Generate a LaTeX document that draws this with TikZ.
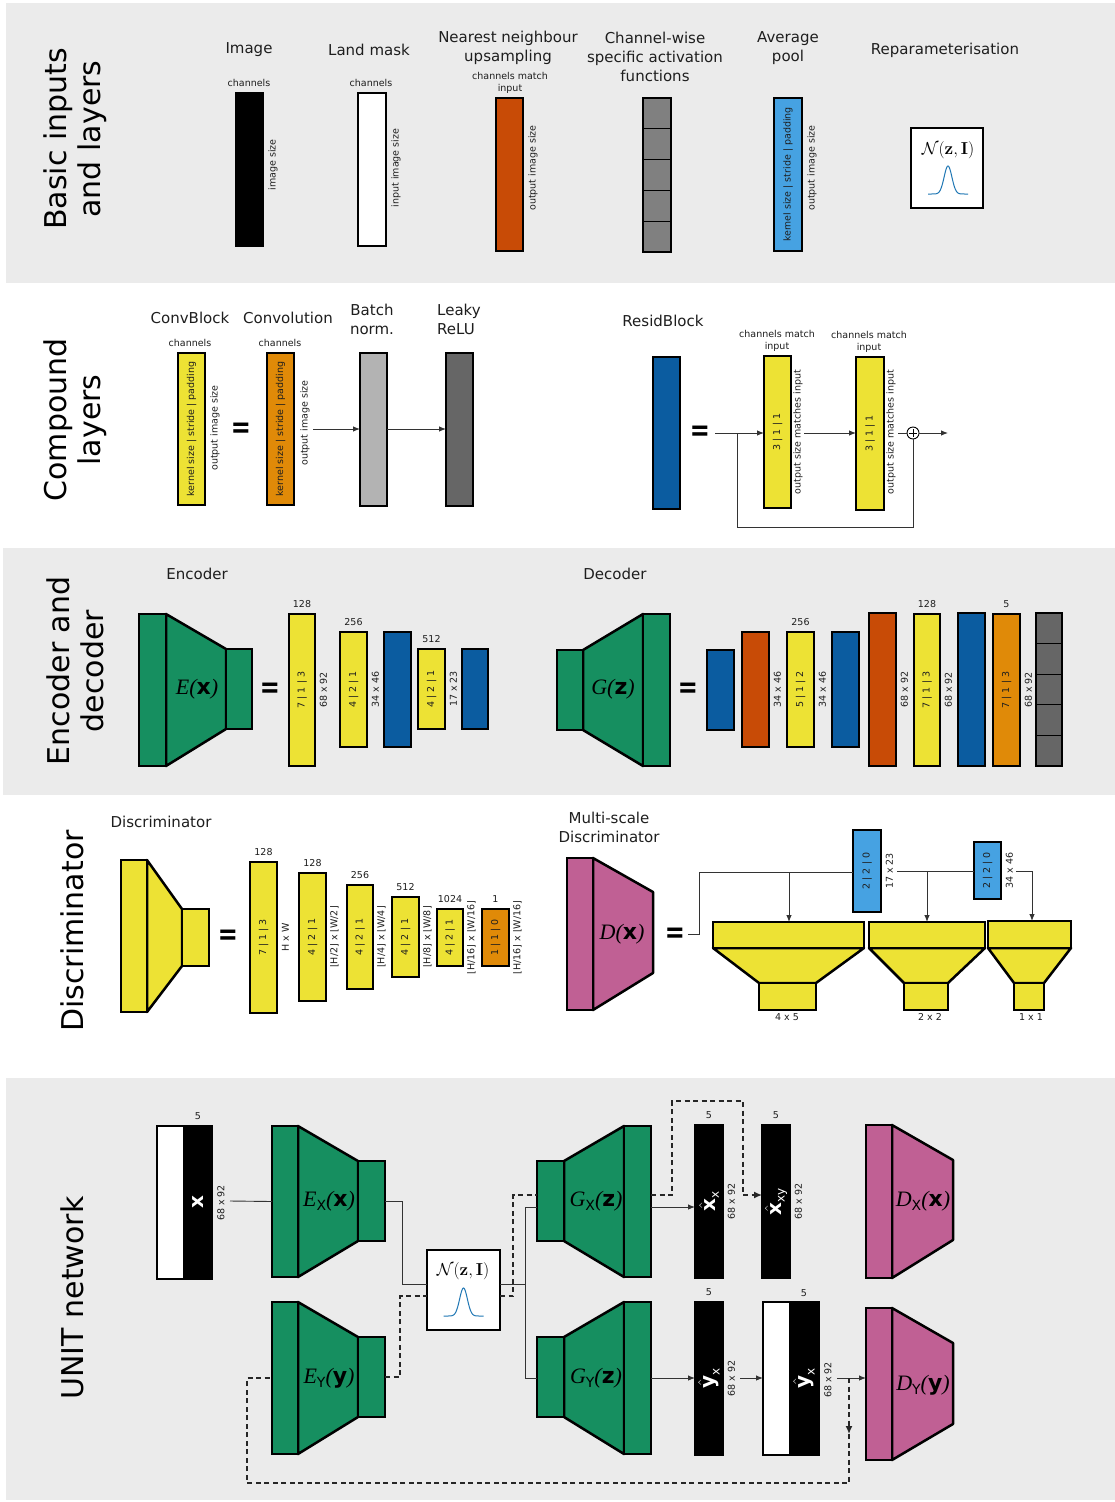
\documentclass[tikz,border=0pt]{standalone}
\usepackage[no-math]{fontspec}
\setmainfont{DejaVu Sans}
\newfontfamily\serifit{Liberation Serif}
\usetikzlibrary{arrows.meta}
\definecolor{bgc}{RGB}{235,235,235}
\definecolor{yel}{RGB}{237,226,52}
\definecolor{grn}{RGB}{22,143,96}
\definecolor{pnk}{RGB}{192,96,148}
\definecolor{dblue}{RGB}{11,92,160}
\definecolor{lblue}{RGB}{70,162,226}
\definecolor{ored}{RGB}{200,75,6}
\definecolor{orng}{RGB}{224,138,8}
\definecolor{gmid}{RGB}{128,128,128}
\definecolor{gdark}{RGB}{102,102,102}
\definecolor{glight}{RGB}{179,179,179}
\definecolor{gauss}{RGB}{31,119,180}
\definecolor{txt}{RGB}{30,30,30}
\newcommand\blk[6]{\node[blk,fill=#6,minimum width={#4-#2},minimum height={#5-#3},anchor=north west] (#1) at (#2,#3) {};}
\newcommand\lay[9]{\blk{#1}{#2}{#3}{#4}{#5}{#6}
  \node[tin] at (#1.center) {#7};
  \node[sml] at ({(#2+#4)/2},{#3-10}) {#8};
  \node[sml,rot] at ({#4+8.5},{(#3+#5)/2}) {#9};}
\newcommand\funnel[9]{%
  \draw[line width=2.5pt,fill=\fc,line join=round] (#3,#6) -- (#4,#8) -- (#4,#9) -- (#3,#7) -- cycle;
  \blk{#1l}{#2}{#6}{#3}{#7}{\fc}
  \blk{#1r}{#4}{#8}{#5}{#9}{\fc}}
\newcommand\dshape[8]{%
  \draw[line width=2.5pt,fill=pnk,line join=round] (#3,#5) -- (#4,#7) -- (#4,#8) -- (#3,#6) -- cycle;
  \blk{#1l}{#2}{#5}{#3}{#6}{pnk}}
\newcommand\cells[6]{%
  \blk{#1}{#2}{#3}{#4}{#5}{#6}
  \foreach \k in {1,2,3,4} {\draw[line width=1.3pt] (#2,{#3+\k*(#5-#3)/5}) -- (#4,{#3+\k*(#5-#3)/5});}}
\newcommand\mysub[1]{\raisebox{-0.2em}{\fontsize{14}{14}\selectfont #1}}
\newcommand\myfn[3]{{\serifit\itshape #1}#2{\serifit\itshape (}{\bfseries #3}{\serifit\itshape )}}
\begin{document}
\begin{tikzpicture}[x=1pt,y=-1pt,
  blk/.style={draw=black,line width=2.5pt,inner sep=0pt,outer sep=0pt},
  ttl/.style={font=\fontsize{15}{19}\selectfont,align=center,text=txt,inner sep=0pt},
  sml/.style={font=\fontsize{9.5}{11.5}\selectfont,align=center,text=txt,inner sep=0pt},
  tin/.style={font=\fontsize{9.5}{11}\selectfont,text=txt,inner sep=0pt,rotate=90},
  rot/.style={rotate=90},
  rowt/.style={font=\fontsize{30}{34}\selectfont,align=center,rotate=90,text=black,inner sep=0pt},
  conn/.style={line width=0.9pt,draw=black!80},
  arr/.style={conn,-{Latex[length=7pt,width=5.5pt]}},
  dsh/.style={line width=1.4pt,draw=black!85,dash pattern=on 5pt off 3.5pt},
  eqs/.style={font=\fontsize{30}{30}\selectfont\bfseries,xscale=0.8,inner sep=0pt},
  lbl/.style={font=\fontsize{22}{22}\selectfont,inner sep=0pt},
  hatl/.style={rotate=90,text=white,font=\fontsize{20}{20}\selectfont\bfseries,inner sep=0pt}]
\useasboundingbox (0,0) rectangle (1115,1502);
\fill[white] (0,0) rectangle (1115,1502);
\fill[bgc] (6,3) rectangle (1115,283);
\fill[bgc] (3,548) rectangle (1115,795);
\fill[bgc] (6,1078) rectangle (1115,1500);

% ---------- Row 1
\node[rowt] (t1) at (75,139) {Basic inputs\\and layers};
\node[ttl] at (249,50) {Image};
\node[sml] at (249,83) {channels};
\blk{img}{236}{93}{263}{246}{black}
\node[sml,rot] at (273,165) {image size};
\node[ttl] at (369,50) {Land mask};
\node[sml] at (371,83) {channels};
\blk{lm}{358}{93}{386}{246}{white}
\node[sml,rot] at (396,168) {input image size};
\node[ttl] at (508,48) {Nearest neighbour\\upsampling};
\node[sml] at (510,83) {channels match\\input};
\blk{nn}{496}{98}{523}{251}{ored}
\node[sml,rot] at (533,168) {output image size};
\node[ttl] at (655,57) {Channel-wise\\specific activation\\functions};
\cells{caf}{643}{98}{671}{252}{gmid}
\node[ttl] at (788,48) {Average\\pool};
\blk{ap}{774}{98}{802}{251}{lblue}
\node[tin] at (ap.center) {kernel size | stride | padding};
\node[sml,rot] at (812,168) {output image size};
\node[ttl] at (945,50) {Reparameterisation};
\blk{rep}{911}{128}{983}{208}{white}
\node[font=\fontsize{17}{17}\selectfont,inner sep=0pt] at (948,150) {$\mathcal{N}(\mathbf{z},\mathbf{I})$};
\draw[gauss,line width=1pt] plot[domain=-20:20,samples=61] ({948+\x},{194-28*exp(-((\x/5.5)*(\x/5.5)))});

% ---------- Row 2
\node[rowt] at (75,420) {Compound\\layers};
\node[ttl] at (190,318) {ConvBlock};
\node[sml] at (190,343) {channels};
\blk{cb}{178}{353}{205}{505}{yel}
\node[tin] at (cb.center) {kernel size | stride | padding};
\node[sml,rot] at (215,428) {output image size};
\node[eqs] at (241,430) {=};
\node[ttl] at (288,318) {Convolution};
\node[sml] at (280,343) {channels};
\blk{cv}{267}{353}{294}{505}{orng}
\node[tin] at (cv.center) {kernel size | stride | padding};
\node[sml,rot] at (305,423) {output image size};
\node[ttl] at (372,319) {Batch\\norm.};
\blk{bn}{360}{353}{387}{506}{glight}
\node[ttl,align=left,anchor=west] at (437,319) {Leaky\\ReLU};
\blk{lr}{446}{353}{473}{506}{gdark}
\coordinate (cva) at (313,429);
\draw[arr] (cva) -- (cva -| bn.west);
\draw[arr] (bn.east |- cva) -- (cva -| lr.west);

\node[ttl] at (663,321) {ResidBlock};
\blk{rb}{653}{357}{680}{509}{dblue}
\node[eqs] at (700,433) {=};
\node[sml] at (777,341) {channels match\\input};
\blk{ra}{764}{356}{791}{508}{yel}
\node[tin] at (ra.center) {3 | 1 | 1};
\node[sml,rot] at (798,432) {output size matches input};
\node[sml] at (869,342) {channels match\\input};
\blk{rc}{856}{357}{884}{510}{yel}
\node[tin] at (rc.center) {3 | 1 | 1};
\node[sml,rot] at (891,432) {output size matches input};
\node[circle,draw=black,line width=0.9pt,minimum size=12pt,inner sep=0pt,fill=white] (plus) at (913,433) {};
\draw[line width=0.8pt] (913,429) -- (913,437) (909,433) -- (917,433);
\coordinate (rin) at (715,433);
\coordinate (rbr) at (737,433);
\coordinate (rbb) at (737,527);
\coordinate (rb2) at (804,433);
\coordinate (rb3) at (898,433);
\coordinate (rout) at (948,433);
\draw[arr] (rin) -- (rin -| ra.west);
\draw[conn] (rbr) -- (rbb) -| (plus.south);
\draw[arr] (rb2) -- (rb2 -| rc.west);
\draw[conn] (rb3) -- (plus.west);
\draw[arr] (plus.east) -- (rout);

% ---------- Row 3
\node[rowt] at (75,671) {Encoder and\\decoder};
\node[ttl] at (197,574) {Encoder};
\node[ttl] at (615,574) {Decoder};
\def\fc{grn}
\funnel{E}{139}{166}{226}{252}{614}{766}{649}{729}
\node[lbl] at (197,689) {\myfn{E}{}{x}};
\node[eqs] at (270,690) {=};
\lay{e1}{289}{614}{315}{766}{yel}{7 | 1 | 3}{128}{68 x 92}
\lay{e2}{340}{632}{367}{747}{yel}{4 | 2 | 1}{256}{34 x 46}
\blk{e3}{384}{632}{411}{747}{dblue}
\lay{e4}{418}{649}{445}{729}{yel}{4 | 2 | 1}{512}{17 x 23}
\blk{e5}{462}{649}{488}{729}{dblue}

\funnel{G}{557}{583}{643}{670}{650}{730}{614}{766}
\node[lbl] at (613,689) {\myfn{G}{}{z}};
\node[eqs] at (688,690) {=};
\blk{d1}{707}{650}{734}{730}{dblue}
\lay{d2}{742}{632}{769}{747}{ored}{}{}{34 x 46}
\lay{d3}{787}{632}{814}{747}{yel}{5 | 1 | 2}{256}{34 x 46}
\blk{d4}{832}{632}{859}{747}{dblue}
\lay{d5}{869}{613}{896}{766}{ored}{}{}{68 x 92}
\lay{d6}{914}{614}{940}{766}{yel}{7 | 1 | 3}{128}{68 x 92}
\blk{d7}{958}{613}{985}{766}{dblue}
\lay{d8}{993}{614}{1020}{766}{orng}{7 | 1 | 3}{5}{68 x 92}
\cells{d9}{1036}{613}{1062}{766}{gdark}

% ---------- Row 4
\node[rowt] at (72,931) {Discriminator};
\node[ttl] at (161,822) {Discriminator};
\def\fc{yel}
\funnel{D}{121}{147}{182}{209}{860}{1012}{909}{966}
\node[eqs] at (228,937) {=};
\lay{q1}{250}{862}{277}{1013}{yel}{7 | 1 | 3}{128}{H x W}
\lay{q2}{299}{873}{326}{1001}{yel}{4 | 2 | 1}{128}{⌊H/2⌋ x ⌊W/2⌋}
\lay{q3}{347}{885}{373}{989}{yel}{4 | 2 | 1}{256}{⌊H/4⌋ x ⌊W/4⌋}
\lay{q4}{392}{897}{419}{977}{yel}{4 | 2 | 1}{512}{⌊H/8⌋ x ⌊W/8⌋}
\lay{q5}{437}{909}{463}{966}{yel}{4 | 2 | 1}{1024}{⌊H/16⌋ x ⌊W/16⌋}
\lay{q6}{482}{909}{509}{966}{orng}{1 | 1 | 0}{1}{⌊H/16⌋ x ⌊W/16⌋}

\node[ttl] at (609,827) {Multi-scale\\Discriminator};
\dshape{P}{567}{593}{653}{858}{1010}{892}{973}
\node[lbl] at (622,934) {\myfn{D}{}{x}};
\node[eqs] at (675,935) {=};
\lay{p1}{853}{830}{881}{912}{lblue}{2 | 2 | 0}{}{17 x 23}
\lay{p2}{974}{842}{1001}{899}{lblue}{2 | 2 | 0}{}{34 x 46}
\draw[line width=2.5pt,fill=yel,line join=round] (713,948) -- (864,948) -- (816,983) -- (759,983) -- cycle;
\blk{f1t}{713}{922}{864}{948}{yel}
\blk{f1b}{759}{983}{816}{1010}{yel}
\node[sml] at (787,1017) {4 x 5};
\draw[line width=2.5pt,fill=yel,line join=round] (869,948) -- (985,948) -- (948,983) -- (904,983) -- cycle;
\blk{f2t}{869}{922}{985}{948}{yel}
\blk{f2b}{904}{983}{948}{1010}{yel}
\node[sml] at (930,1017) {2 x 2};
\draw[line width=2.5pt,fill=yel,line join=round] (988,948) -- (1071,948) -- (1044,983) -- (1014,983) -- cycle;
\blk{f3t}{988}{921}{1071}{948}{yel}
\blk{f3b}{1014}{983}{1044}{1010}{yel}
\node[sml] at (1031,1017) {1 x 1};
\coordinate (m0) at (688,934);
\coordinate (m1) at (699,872);
\draw[conn] (m0) -| (m1) -- (m1 -| p1.west);
\coordinate (m2) at (789,872);
\draw[arr] (m2) -- (m2 |- f1t.north);
\coordinate (m3) at (897,871);
\draw[conn] (m3) -- (m3 -| p2.west);
\coordinate (m4) at (927,871);
\draw[arr] (m4) -- (m4 |- f2t.north);
\coordinate (m5) at (1016,871);
\coordinate (m6) at (1032,871);
\draw[arr] (m5) -- (m6) -- (m6 |- f3t.north);

% ---------- Row 5
\node[rowt] at (72,1298) {UNIT network};
\blk{xin}{157}{1126}{212}{1279}{black}
\fill[white] (158.3,1127.3) rectangle (183,1277.7);
\node[hatl] at (198,1202) {x};
\node[sml] at (198,1116) {5};
\node[sml,rot] at (221,1203) {68 x 92};

\def\fc{grn}
\funnel{EX}{272}{298}{358}{385}{1126}{1277}{1161}{1241}
\node[lbl] at (329,1201) {\myfn{E}{\mysub{X}}{x}};
\funnel{EY}{272}{298}{358}{385}{1302}{1454}{1337}{1417}
\node[lbl] at (329,1378) {\myfn{E}{\mysub{Y}}{y}};
\funnel{GX}{537}{564}{624}{651}{1161}{1241}{1126}{1277}
\node[lbl] at (596,1201) {\myfn{G}{\mysub{X}}{z}};
\funnel{GY}{537}{564}{624}{651}{1337}{1417}{1302}{1454}
\node[lbl] at (596,1378) {\myfn{G}{\mysub{Y}}{z}};

\blk{nz}{427}{1250}{500}{1330}{white}
\node[font=\fontsize{17}{17}\selectfont,inner sep=0pt] at (463,1271) {$\mathcal{N}(\mathbf{z},\mathbf{I})$};
\draw[gauss,line width=1pt] plot[domain=-20:20,samples=61] ({463.5+\x},{1316-28*exp(-((\x/5.5)*(\x/5.5)))});

\lay{xx}{695}{1125}{723}{1278}{black}{}{5}{68 x 92}
\node[hatl] at (xx.center) {$\hat{\mbox{x}}_{\mbox{\fontsize{12}{12}\selectfont\mdseries x}}$};
\lay{xxy}{762}{1125}{790}{1278}{black}{}{5}{68 x 92}
\node[hatl] at (xxy.center) {$\hat{\mbox{x}}_{\mbox{\fontsize{12}{12}\selectfont\mdseries xy}}$};
\lay{yx}{695}{1302}{723}{1455}{black}{}{5}{68 x 92}
\node[hatl] at (yx.center) {$\hat{\mbox{y}}_{\mbox{\fontsize{12}{12}\selectfont\mdseries x}}$};
\blk{yxb}{763}{1302}{819}{1455}{black}
\fill[white] (764.3,1303.3) rectangle (789,1453.7);
\node[hatl] at (804,1378) {$\hat{\mbox{y}}_{\mbox{\fontsize{12}{12}\selectfont\mdseries x}}$};
\node[sml] at (804,1293) {5};
\node[sml,rot] at (828,1380) {68 x 92};

\dshape{DX}{866}{892}{953}{1125}{1278}{1160}{1240}
\node[lbl] at (923,1201) {\myfn{D}{\mysub{X}}{x}};
\dshape{DY}{866}{892}{953}{1308}{1460}{1343}{1424}
\node[lbl] at (923,1385) {\myfn{D}{\mysub{Y}}{y}};

% connectors
\coordinate (u0) at (230,1201);
\draw[conn] (u0) -- (EXl.west);
\coordinate (u1) at (402,1284);
\draw[conn] (EXr.east) -| (u1) -- (u1 -| nz.west);
\coordinate (u2) at (525,1284);
\coordinate (u3) at (525,1207);
\coordinate (u4) at (525,1378);
\draw[conn] (u2 -| nz.east) -- (u2) -- (u3) -- (u3 -| GXl.west);
\draw[conn] (u2) -- (u4) -- (u4 -| GYl.west);
\coordinate (v1) at (400,1296);
\coordinate (v2) at (513,1296);
\coordinate (v3) at (513,1195);
\draw[dsh] (EYr.east) -| (v1) -- (v1 -| nz.west);
\draw[dsh] (v2 -| nz.east) -- (v2) -- (v3) -- (v3 -| GXl.west);
\coordinate (w1) at (651,1207);
\draw[arr] (w1) -- (w1 -| xx.west);
\coordinate (w2) at (672,1195);
\coordinate (w3) at (672,1101);
\coordinate (w4) at (743,1101);
\coordinate (w5) at (743,1195);
\draw[dsh] (w2 -| GXr.east) -- (w2) -- (w3) -- (w4) -- (w5);
\draw[dsh,-{Latex[length=8pt,width=7pt]}] (w5) -- (w5 -| xxy.west);
\coordinate (z1) at (651,1378);
\draw[arr] (z1) -- (z1 -| yx.west);
\coordinate (z2) at (740,1378);
\draw[arr] (z2) -- (z2 -| yxb.west);
\coordinate (z3) at (837,1378);
\draw[arr] (z3) -- (z3 -| DYl.west);
\coordinate (z4) at (849,1378);
\coordinate (z5) at (849,1434);
\coordinate (z6) at (849,1483);
\coordinate (z7) at (247,1483);
\coordinate (z8) at (247,1378);
\draw[dsh,-{Latex[length=8pt,width=7pt]}] (z4) -- (z5);
\draw[dsh] (z5) -- (z6) -- (z7) -- (z8) -- (z8 -| EYl.west);
\end{tikzpicture}
\end{document}
